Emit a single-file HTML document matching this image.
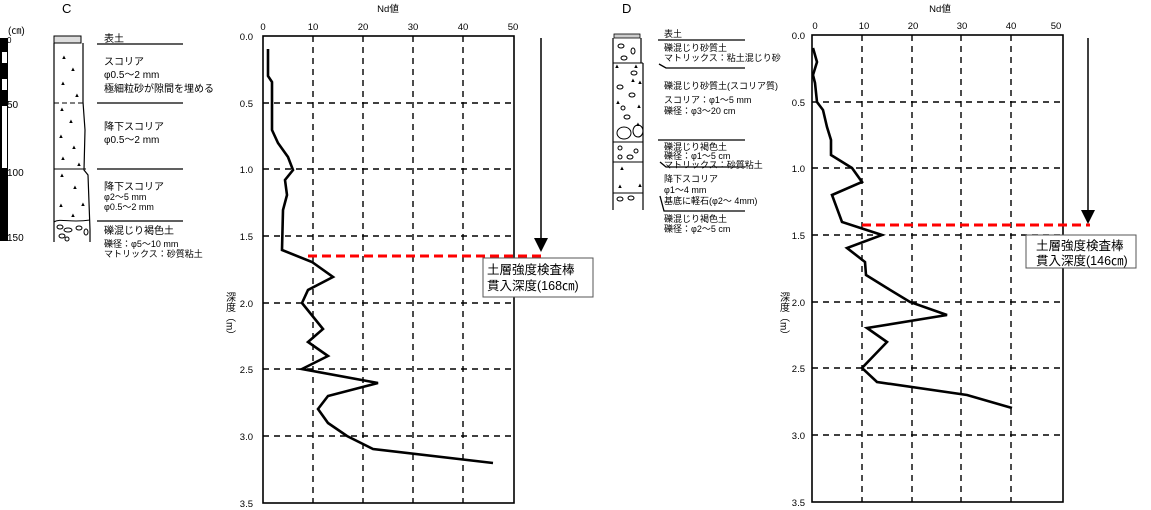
<!DOCTYPE html>
<html><head><meta charset="utf-8"><style>
html,body{margin:0;padding:0;background:#fff}
svg{display:block}
text{font-family:"Liberation Sans","Noto Sans CJK JP",sans-serif;fill:#000}
</style></head><body>
<svg width="1151" height="510" viewBox="0 0 1151 510" xmlns="http://www.w3.org/2000/svg">
<!-- ===== C ===== -->
<text x="62" y="13" font-size="13">C</text>
<rect x="0" y="38" width="8" height="203" fill="#000"/>
<rect x="2" y="52" width="5" height="11" fill="#fff"/>
<rect x="2" y="79" width="5" height="11" fill="#fff"/>
<rect x="2" y="106" width="5" height="62" fill="#fff"/>
<text x="8" y="34" font-size="10">(㎝)</text>
<text x="7" y="43" font-size="8">0</text>
<text x="7" y="108" font-size="10">50</text>
<text x="7" y="176" font-size="10">100</text>
<text x="7" y="241" font-size="10">150</text>
<rect x="54" y="36" width="27" height="7" fill="#ddd" stroke="#000" stroke-width="1"/>
<path d="M54 43 V242 M83 43 V102 L85 130 L84 170 L88 175 L90 230 V242" fill="none" stroke="#000" stroke-width="1.2"/>
<path d="M54 103 H83" stroke="#000" stroke-dasharray="5,3"/>
<path d="M54 169 H86 M54 222 C60 218 70 223 90 220" fill="none" stroke="#000"/>
<g font-size="6">
<text x="61" y="59">▲</text><text x="70" y="71">▲</text><text x="60" y="85">▲</text><text x="74" y="97">▲</text>
<text x="59" y="111">▲</text><text x="68" y="123">▲</text><text x="58" y="138">▲</text><text x="71" y="149">▲</text><text x="60" y="160">▲</text><text x="76" y="166">▲</text>
<text x="59" y="177">▲</text><text x="72" y="189">▲</text><text x="58" y="207">▲</text><text x="80" y="206">▲</text><text x="70" y="217">▲</text>
</g>
<g fill="none" stroke="#000" stroke-width="1">
<ellipse cx="60" cy="227" rx="3" ry="2"/><ellipse cx="68" cy="230" rx="4" ry="2"/><ellipse cx="79" cy="228" rx="3" ry="2"/><ellipse cx="62" cy="236" rx="3" ry="2"/><ellipse cx="86" cy="232" rx="2" ry="3"/><ellipse cx="67" cy="239" rx="2" ry="2"/>
</g>
<g stroke="#000" stroke-width="1.3">
<line x1="97" y1="44" x2="183" y2="44"/><line x1="97" y1="103" x2="183" y2="103"/>
<line x1="97" y1="169" x2="183" y2="169"/><line x1="97" y1="221" x2="183" y2="221"/>
</g>
<g font-size="10">
<text x="104" y="42">表土</text>
<text x="104" y="65">スコリア</text>
<text x="104" y="78">φ0.5～2 mm</text>
<text x="104" y="92">極細粒砂が隙間を埋める</text>
<text x="104" y="130">降下スコリア</text>
<text x="104" y="143">φ0.5～2 mm</text>
<text x="104" y="190">降下スコリア</text>
<text x="104" y="200" font-size="9">φ2～5 mm</text>
<text x="104" y="210" font-size="9">φ0.5～2 mm</text>
<text x="104" y="234">礫混じり褐色土</text>
<text x="104" y="247" font-size="9">礫径：φ5～10 mm</text>
<text x="104" y="257" font-size="9">マトリックス：砂質粘土</text>
</g>
<!-- chart C -->
<g stroke="#000" stroke-width="1.4" stroke-dasharray="6,5" fill="none">
<path d="M313 36V503 M363 36V503 M413 36V503 M463 36V503"/>
<path d="M263 103H514 M263 169H514 M263 236H514 M263 303H514 M263 369H514 M263 436H514"/>
</g>
<rect x="263" y="36" width="251" height="467" fill="none" stroke="#000" stroke-width="1.6"/>
<g font-size="9.5" text-anchor="end">
<text x="253" y="40">0.0</text><text x="253" y="107">0.5</text><text x="253" y="173">1.0</text><text x="253" y="240">1.5</text><text x="253" y="307">2.0</text><text x="253" y="373">2.5</text><text x="253" y="440">3.0</text><text x="253" y="507">3.5</text>
</g>
<g font-size="9.5" text-anchor="middle">
<text x="263" y="30">0</text><text x="313" y="30">10</text><text x="363" y="30">20</text><text x="413" y="30">30</text><text x="463" y="30">40</text><text x="513" y="30">50</text>
<text x="388" y="12">Nd値</text>
</g>
<text x="229" y="292" font-size="10" style="writing-mode:tb;glyph-orientation-vertical:0">深度（m）</text>
<polyline fill="none" stroke="#000" stroke-width="2.6" points="268,49 268,76 272,82 272,130 278,143 288,157 293,170 285,180 287,195 283,210 282,250 312,262 333,277 308,290 302,303 323,329 308,342 328,356 302,369 378,383 328,396 318,409 328,423 347,436 373,449 493,463"/>
<line x1="308" y1="256" x2="543" y2="256" stroke="#f00" stroke-width="3" stroke-dasharray="9,5"/>
<line x1="541" y1="38" x2="541" y2="240" stroke="#000" stroke-width="1.5"/>
<polygon points="534,238 548,238 541,252" fill="#000"/>
<rect x="483" y="258" width="110" height="39" fill="#fff" stroke="#555" stroke-width="1"/>
<text x="487" y="274" font-size="12.5">土層強度検査棒</text>
<text x="487" y="290" font-size="12.5">貫入深度(168㎝)</text>

<!-- ===== D ===== -->
<text x="622" y="13" font-size="13">D</text>
<rect x="614" y="34" width="26" height="4" fill="#ccc" stroke="#000" stroke-width="0.8"/>
<path d="M613 38 V210 M641 38 V63 M643 63 V210" fill="none" stroke="#000" stroke-width="1.2"/>
<path d="M613 63 H643 M613 142 H643 M613 162 H643 M613 193 H643" stroke="#000"/>
<g fill="none" stroke="#000" stroke-width="1">
<ellipse cx="621" cy="46" rx="3" ry="2"/><ellipse cx="633" cy="51" rx="2" ry="3"/><ellipse cx="624" cy="58" rx="3" ry="2"/>
<ellipse cx="634" cy="73" rx="3" ry="2"/><ellipse cx="620" cy="87" rx="3" ry="2"/><ellipse cx="632" cy="95" rx="3" ry="2"/><ellipse cx="623" cy="108" rx="2" ry="2"/><ellipse cx="627" cy="117" rx="3" ry="2"/>
<ellipse cx="624" cy="133" rx="7" ry="6"/><ellipse cx="638" cy="131" rx="5" ry="6"/>
<ellipse cx="620" cy="148" rx="2" ry="2"/><ellipse cx="620" cy="157" rx="2" ry="2"/><ellipse cx="630" cy="157" rx="3" ry="2"/><ellipse cx="636" cy="151" rx="2" ry="2"/>
<ellipse cx="620" cy="199" rx="3" ry="2"/><ellipse cx="631" cy="198" rx="3" ry="2"/>
</g>
<g font-size="6">
<text x="614" y="68">▲</text><text x="633" y="68">▲</text><text x="630" y="82">▲</text><text x="615" y="104">▲</text><text x="637" y="84">▲</text><text x="636" y="108">▲</text><text x="635" y="126">▲</text>
<text x="619" y="170">▲</text><text x="617" y="188">▲</text><text x="637" y="187">▲</text>
</g>
<g stroke="#000" stroke-width="1.3" fill="none">
<line x1="658" y1="40" x2="745" y2="40"/>
<polyline points="659,64 666,68 745,68"/>
<line x1="658" y1="140" x2="745" y2="140"/>
<polyline points="660,162 666,167 745,167"/>
<polyline points="660,196 664,211 745,211"/>
</g>
<g font-size="9">
<text x="664" y="37">表土</text>
<text x="664" y="51">礫混じり砂質土</text>
<text x="664" y="61">マトリックス：粘土混じり砂</text>
<text x="664" y="89">礫混じり砂質土(スコリア質)</text>
<text x="664" y="103">スコリア：φ1～5 mm</text>
<text x="664" y="114">礫径：φ3～20 cm</text>
<text x="664" y="150">礫混じり褐色土</text>
<text x="664" y="159">礫径：φ1～5 cm</text>
<text x="664" y="168">マトリックス：砂質粘土</text>
<text x="664" y="182">降下スコリア</text>
<text x="664" y="193">φ1～4 mm</text>
<text x="664" y="204">基底に軽石(φ2～ 4mm)</text>
<text x="664" y="222">礫混じり褐色土</text>
<text x="664" y="232">礫径：φ2～5 cm</text>
</g>
<!-- chart D -->
<g stroke="#000" stroke-width="1.4" stroke-dasharray="6,5" fill="none">
<path d="M862 35V502 M912 35V502 M961 35V502 M1011 35V502"/>
<path d="M812 102H1063 M812 168H1063 M812 235H1063 M812 302H1063 M812 368H1063 M812 435H1063"/>
</g>
<rect x="812" y="35" width="251" height="467" fill="none" stroke="#000" stroke-width="1.6"/>
<g font-size="9.5" text-anchor="end">
<text x="805" y="39">0.0</text><text x="805" y="106">0.5</text><text x="805" y="172">1.0</text><text x="805" y="239">1.5</text><text x="805" y="306">2.0</text><text x="805" y="372">2.5</text><text x="805" y="439">3.0</text><text x="805" y="506">3.5</text>
</g>
<g font-size="9.5" text-anchor="middle">
<text x="815" y="29">0</text><text x="864" y="29">10</text><text x="913" y="29">20</text><text x="962" y="29">30</text><text x="1011" y="29">40</text><text x="1056" y="29">50</text>
<text x="940" y="12">Nd値</text>
</g>
<text x="783" y="292" font-size="10" style="writing-mode:tb;glyph-orientation-vertical:0">深度（m）</text>
<polyline fill="none" stroke="#000" stroke-width="2.6" points="813,48 817,62 813,75 815,83 817,102 823,110 827,127 831,140 831,155 852,168 862,182 832,195 842,222 882,235 847,248 865,262 866,275 887,288 910,302 947,315 867,328 887,342 862,368 877,382 967,395 1012,408"/>
<line x1="862" y1="225" x2="1090" y2="225" stroke="#f00" stroke-width="3" stroke-dasharray="9,5"/>
<line x1="1088" y1="38" x2="1088" y2="212" stroke="#000" stroke-width="1.5"/>
<polygon points="1081,210 1095,210 1088,224" fill="#000"/>
<rect x="1026" y="235" width="110" height="33" fill="#fff" stroke="#555" stroke-width="1"/>
<text x="1036" y="250" font-size="12.5">土層強度検査棒</text>
<text x="1036" y="265" font-size="12.5">貫入深度(146㎝)</text>
</svg>
</body></html>
